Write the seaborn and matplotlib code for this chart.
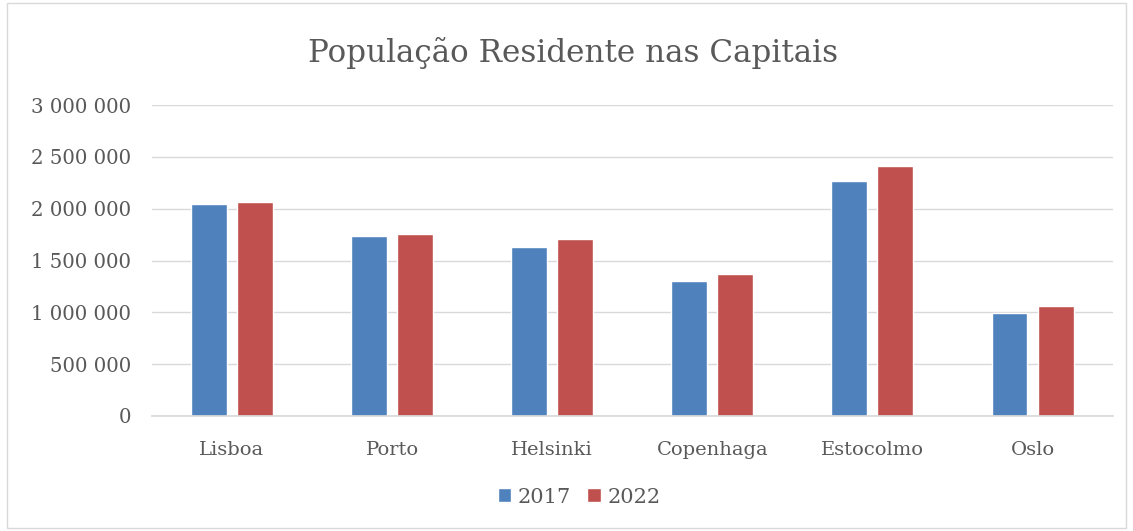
import matplotlib
matplotlib.use("Agg")
import matplotlib.pyplot as plt
import seaborn as sns
import pandas as pd
from matplotlib.ticker import FuncFormatter
from matplotlib.patches import Rectangle

cities = ["Lisboa", "Porto", "Helsinki", "Copenhaga", "Estocolmo", "Oslo"]
pop_2017 = [2042000, 1734000, 1635000, 1304000, 2264000, 992000]
pop_2022 = [2068000, 1760000, 1712000, 1368000, 2408000, 1063000]
years = ["2017", "2022"]
yticks = [0, 500000, 1000000, 1500000, 2000000, 2500000, 3000000]

df = pd.DataFrame({
    "Cidade": cities * 2,
    "Ano": [years[0]] * len(cities) + [years[1]] * len(cities),
    "Pop": pop_2017 + pop_2022,
})

sns.set_theme(style="white")
plt.rcParams['font.family'] = ['DejaVu Serif']
txt = "#595959"

fig = plt.figure(figsize=(11.33, 5.31), dpi=100)
ax = fig.add_axes([0.134, 0.2166, 0.848, 0.5856])
sns.barplot(data=df, x="Cidade", y="Pop", hue="Ano", order=cities, hue_order=years,
            palette=["#4F81BD", "#C0504D"], width=0.575, gap=0.22, ax=ax,
            saturation=1, errorbar=None)

ax.set_ylim(0, 3000000)
ax.set_yticks(yticks)
ax.yaxis.set_major_formatter(FuncFormatter(lambda v, p: f"{int(v):,}".replace(",", " ")))
ax.grid(axis="y", color="#D9D9D9", linewidth=1)
ax.set_axisbelow(True)
for s in ["top", "right", "left"]:
    ax.spines[s].set_visible(False)
ax.spines["bottom"].set_color("#D9D9D9")
ax.tick_params(axis="y", length=0, pad=15, labelsize=14.2, labelcolor=txt)
ax.tick_params(axis="x", length=0, pad=18, labelsize=14, labelcolor=txt)
ax.set_xlabel("")
ax.set_ylabel("")
ax.set_xlim(-0.5, len(cities) - 0.5)

fig.suptitle("População Residente nas Capitais", x=0.506, y=0.93, fontsize=22.3, color=txt)

handles, labels = ax.get_legend_handles_labels()
ax.get_legend().remove()
fig.legend(handles, labels, loc="center", bbox_to_anchor=(0.511, 0.064), ncol=2, frameon=False,
           fontsize=15, handlelength=0.65, handleheight=0.65, handletextpad=0.3,
           columnspacing=0.8, labelcolor=txt)

fig.patches.append(Rectangle((0.006, 0.006), 0.988, 0.988, transform=fig.transFigure,
                             fill=False, edgecolor="#D9D9D9", linewidth=1))

fig.savefig("out.png", dpi=100)
